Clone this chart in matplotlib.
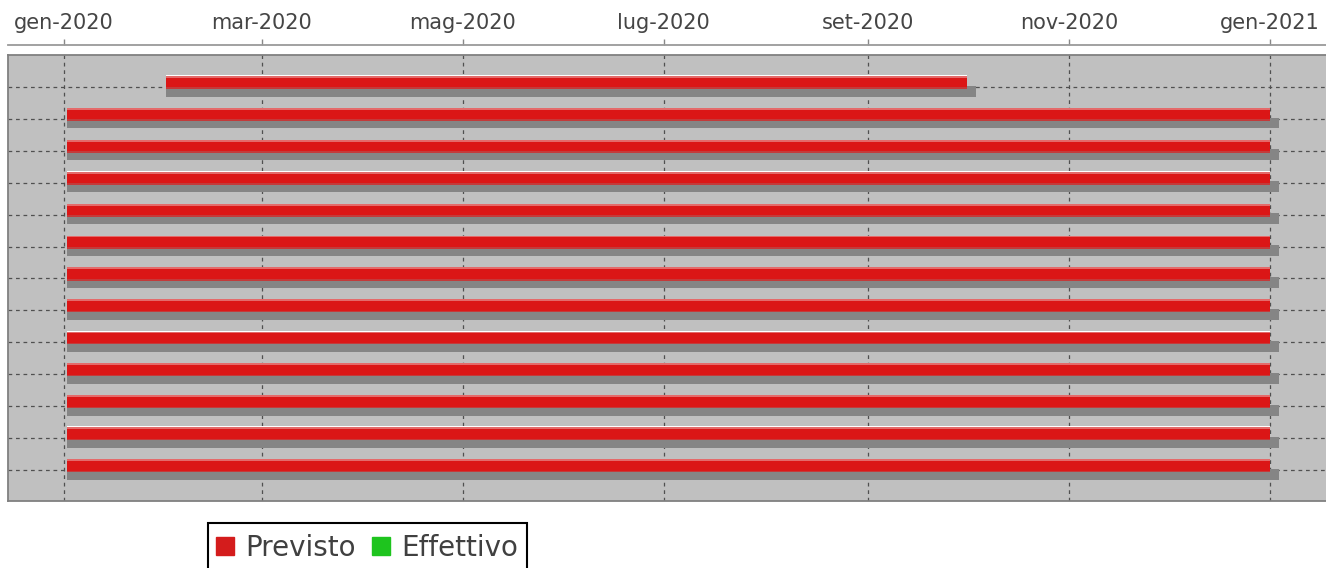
import matplotlib.pyplot as plt
import matplotlib.dates as mdates
from matplotlib.lines import Line2D
from matplotlib.patches import Rectangle
from datetime import datetime

# Gantt data (13 tasks, only "Previsto" series has bars)
task_starts = ['2020-02-01'] + ['2020-01-02'] * 12
task_ends = ['2020-10-01'] + ['2021-01-01'] * 12
highlight_rows = [0, 3, 8, 11]   # rows with a white edge on top of the bar

tick_dates = ['2020-01-01', '2020-03-01', '2020-05-01', '2020-07-01',
              '2020-09-01', '2020-11-01', '2021-01-01']
tick_labels = ['gen-2020', 'mar-2020', 'mag-2020', 'lug-2020',
               'set-2020', 'nov-2020', 'gen-2021']

series_names = ['Previsto', 'Effettivo']
series_colors = ['#d41c1c', '#1ec41e']

red = '#db1616'
shadow = '#858585'
bg = '#c0c0c0'


def d2n(s):
    return mdates.date2num(datetime.strptime(s, '%Y-%m-%d'))


W, H = 1326, 568
fig = plt.figure(figsize=(W / 100, H / 100), dpi=100)
ax = fig.add_axes([8 / W, 1 - 501 / H, (1334 - 8) / W, (501 - 55) / H])
ax.set_facecolor(bg)

px_per_day = (1270 - 64) / 366.0
shadow_ext = 9 / px_per_day

for i, (s, e) in enumerate(zip(task_starts, task_ends)):
    x0, x1 = d2n(s), d2n(e)
    w = x1 - x0
    # shadow under the bar
    ax.barh(i + 0.13, w + shadow_ext, left=x0, height=0.34,
            color=shadow, zorder=2)
    # planned bar with a soft gradient at the edges
    ax.barh(i - 0.14, w, left=x0, height=0.41, color=red, zorder=3)
    ax.barh(i - 0.315, w, left=x0, height=0.06, color='#e46a6a', zorder=3)
    ax.barh(i + 0.04, w, left=x0, height=0.05, color='#c43a3a', zorder=3)
    if i in highlight_rows:
        ax.barh(i - 0.35, w, left=x0, height=0.035, color='white', zorder=3)

ax.set_ylim(12.97, -1)
x_left = d2n('2020-01-01') - (64 - 8) / px_per_day
x_right = d2n('2020-01-01') + (1334 - 64) / px_per_day
ax.set_xlim(x_left, x_right)

ax.set_yticks(range(len(task_starts)))
ax.tick_params(axis='y', length=0, labelleft=False)

ax.xaxis.tick_top()
ax.set_xticks([d2n(t) for t in tick_dates])
ax.set_xticklabels(tick_labels)
ax.tick_params(axis='x', direction='out', length=4, width=1, color='#888888',
               pad=5, labelsize=15, labelcolor='#454545', bottom=False)

ax.grid(True, color='#505050', linestyle=(0, (3, 3)), linewidth=0.9)
ax.set_axisbelow(True)

for side in ['left', 'right', 'bottom']:
    ax.spines[side].set_color('#808080')
    ax.spines[side].set_linewidth(1.3)
ax.spines['top'].set_position(('outward', 7))
ax.spines['top'].set_color('#9a9a9a')
ax.spines['top'].set_linewidth(1.3)
# top border of the plot box
ax.axhline(-1, color='#808080', linewidth=1.3, clip_on=False, zorder=5)

# legend (box runs past the bottom edge of the image)
handles = [Line2D([], [], marker='s', linestyle='none', markersize=12.5,
                  markerfacecolor=c, markeredgecolor=c, label=n)
           for n, c in zip(series_names, series_colors)]
leg = fig.legend(handles=handles, loc='center left',
                 bbox_to_anchor=(208 / W, 1 - 548 / H), ncol=2, frameon=False,
                 fontsize=20, handlelength=0.8, handletextpad=0.33,
                 columnspacing=0.52, borderpad=0.2, borderaxespad=0)
for t in leg.get_texts():
    t.set_color('#404040')
fig.add_artist(Rectangle((208 / W, 1 - 580 / H), (527 - 208) / W, (580 - 523) / H,
                         transform=fig.transFigure, fill=False,
                         edgecolor='black', linewidth=1.5))

fig.savefig('out.png', dpi=100)
